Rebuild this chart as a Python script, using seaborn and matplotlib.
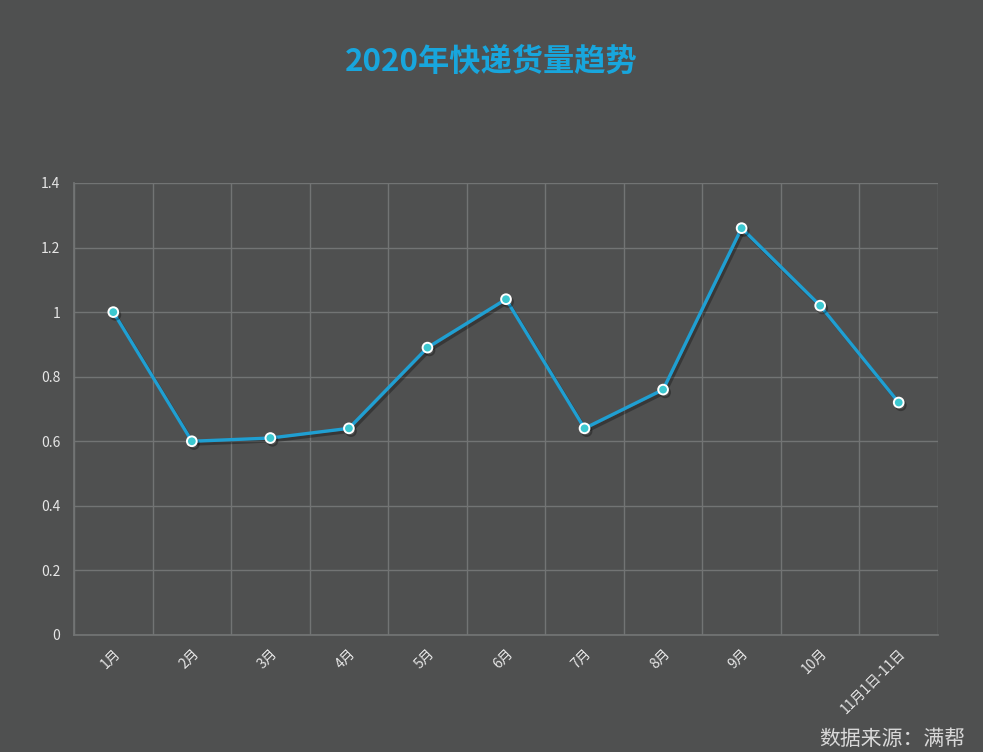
import numpy as np
import pandas as pd
import matplotlib
matplotlib.use("Agg")
import matplotlib.pyplot as plt
import matplotlib.patheffects as pe
import seaborn as sns

# 데이터
months = ["1月", "2月", "3月", "4月", "5月", "6月", "7月", "8月", "9月", "10月", "11月1日-11日"]
volume = [1.00, 0.60, 0.61, 0.64, 0.89, 1.04, 0.64, 0.76, 1.26, 1.02, 0.72]
y_ticks = [0, 0.2, 0.4, 0.6, 0.8, 1.0, 1.2, 1.4]
y_tick_labels = ["0", "0.2", "0.4", "0.6", "0.8", "1", "1.2", "1.4"]

bg = "#4f5050"
grid_c = "#727474"
text_c = "#e6e6e6"
line_c = "#1f9fd2"

sns.set_theme(style="dark")
plt.rcParams["font.family"] = ["Noto Sans CJK SC", "DejaVu Sans"]

df = pd.DataFrame({"month": months, "volume": volume, "pos": np.arange(len(months))})

fig = plt.figure(figsize=(9.83, 7.52), dpi=100, facecolor=bg)
ax = fig.add_axes([0.0753, 0.1556, 0.8789, 0.6011])
ax.set_facecolor(bg)

sns.lineplot(data=df, x="pos", y="volume", ax=ax, color=line_c, linewidth=2.4,
             marker="o", markersize=7, markerfacecolor="#3cc8d0",
             markeredgecolor="white", markeredgewidth=1.4,
             path_effects=[pe.SimpleLineShadow(offset=(1.5, -2), shadow_color="black", alpha=0.3), pe.Normal()])

ax.set_xlim(-0.5, len(months) - 0.5)
ax.set_ylim(0, 1.4)
ax.set_xticks(df["pos"])
ax.set_xticklabels(months, rotation=45, ha="right", rotation_mode="anchor", fontsize=10, color=text_c)
ax.set_xticks(np.arange(-0.5, len(months), 1), minor=True)
ax.set_yticks(y_ticks)
ax.set_yticklabels(y_tick_labels, fontsize=10, color=text_c)
ax.tick_params(axis="both", which="both", length=0)
ax.tick_params(axis="x", pad=8)
ax.tick_params(axis="y", pad=10)

ax.grid(False)
ax.grid(True, axis="y", which="major", color=grid_c, linewidth=1)
ax.grid(True, axis="x", which="minor", color=grid_c, linewidth=1)
for s in ax.spines.values():
    s.set_visible(False)
ax.spines["bottom"].set_visible(True)
ax.spines["bottom"].set_color(grid_c)
ax.spines["left"].set_visible(True)
ax.spines["left"].set_color(grid_c)
ax.set_xlabel("")
ax.set_ylabel("")

fig.text(0.4995, 0.918, "2020年快递货量趋势", ha="center", va="center",
         fontsize=22.5, fontweight="bold", color="#18a6dd")
fig.text(0.982, 0.003, "数据来源：满帮", ha="right", va="bottom", fontsize=15, color="#d8d8d8")

fig.savefig("out.png", dpi=100, facecolor=bg)
